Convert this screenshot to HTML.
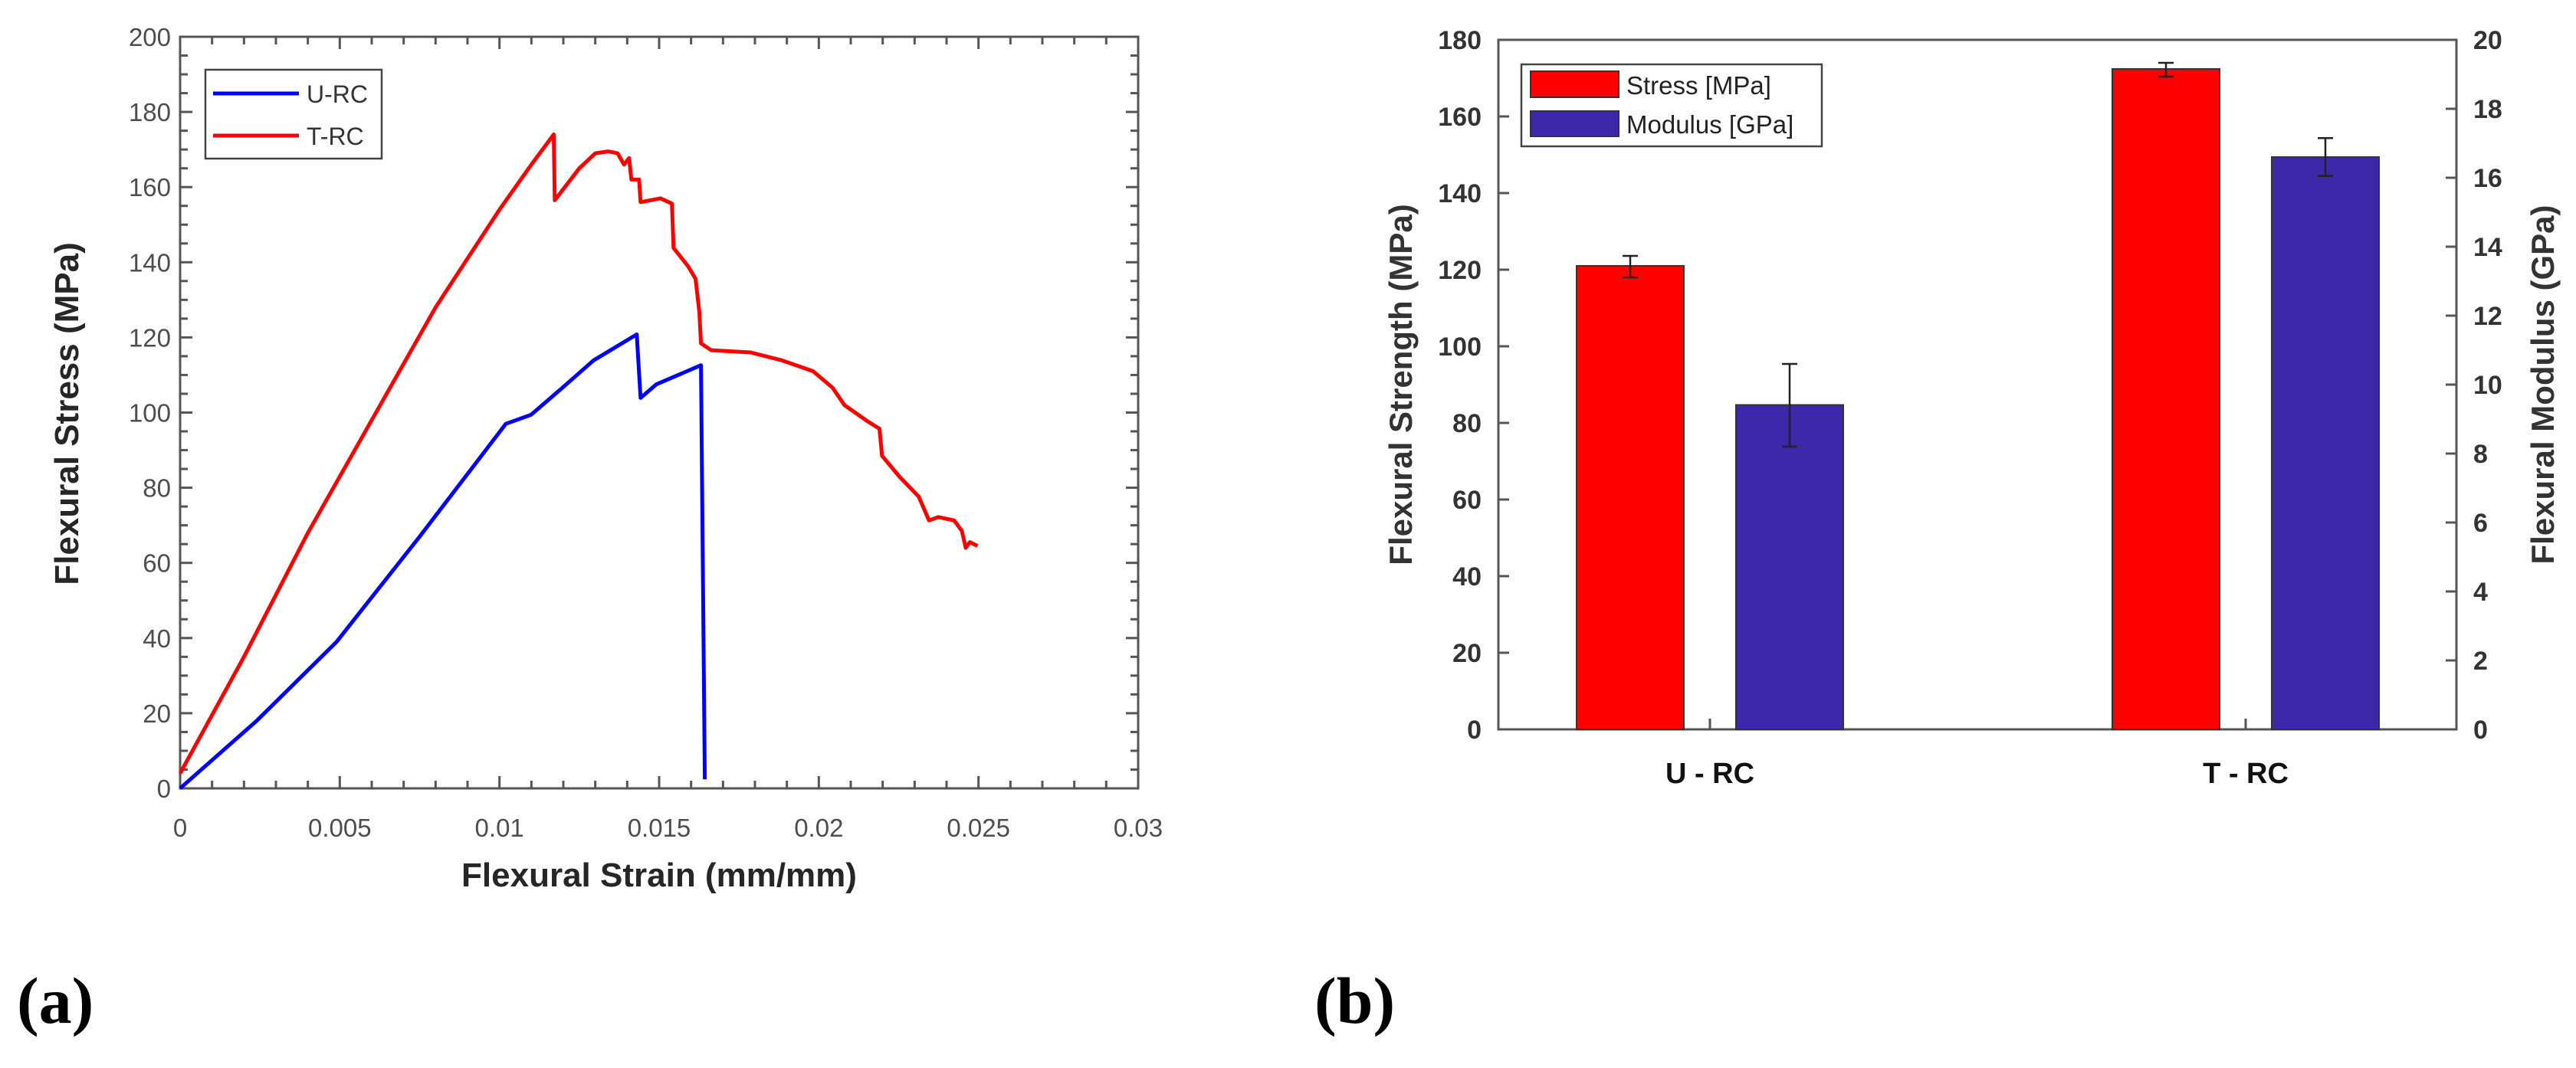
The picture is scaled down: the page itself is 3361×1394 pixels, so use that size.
<!DOCTYPE html>
<html><head><meta charset="utf-8"><style>
html,body{margin:0;padding:0;background:#fff;}
svg{display:block;}
</style></head><body>
<svg id="fig" width="3361" height="1394" viewBox="0 0 3361 1394" xmlns="http://www.w3.org/2000/svg">
<g id="chartA"></g>
<g id="chartB"></g>
<text x="22" y="1335" font-family="Liberation Serif, serif" font-weight="bold" font-size="86" fill="#000">(a)</text>
<text x="1715" y="1335" font-family="Liberation Serif, serif" font-weight="bold" font-size="86" fill="#000">(b)</text>
</svg>
<script>
// ---- Chart A data ----
const tStrain = [0,0.002,0.004,0.006,0.007,0.008,0.009,0.010,0.011,0.0117,0.01173,0.0125,0.013,0.0134,0.0137,0.0139,0.01406,0.01413,0.01437,0.01442,0.01504,0.0154,0.01545,0.0159,0.01614,0.01626,0.01631,0.01663,0.01786,0.01884,0.01982,0.02043,0.0208,0.02154,0.0219,0.02198,0.02252,0.02313,0.02345,0.02374,0.02424,0.02448,0.0246,0.02473,0.02497];
const tStress = [4,35,68,98,113,128,141,154,166,174,156.5,165,169,169.5,169,166,167.7,162,162,156,157,155.6,143.8,139,135.6,126.6,118.4,116.6,116,113.9,111,106.6,102,97.6,95.7,88.5,83,77.6,71.3,72.2,71.3,68.5,64,65.5,64.5];
const uStrain = [0,0.0024,0.0049,0.0075,0.0102,0.01099,0.01148,0.01197,0.01295,0.0143,0.01442,0.01491,0.01631,0.01643];
const uStress = [0,18,39,67,97,99.4,103,106.6,113.9,120.8,103.9,107.5,112.6,2.4];
const xTicksA = [0,0.005,0.01,0.015,0.02,0.025,0.03];
const xTickLabelsA = ["0","0.005","0.01","0.015","0.02","0.025","0.03"];
const yTicksA = [0,20,40,60,80,100,120,140,160,180,200];
// ---- Chart B data ----
const categories = ["U - RC","T - RC"];
const stressVals = [121,172.4];
const stressErrLo = [118,170.4];
const stressErrHi = [123.6,174];
const modulusVals = [9.41,16.6];
const modulusErrLo = [8.2,16.05];
const modulusErrHi = [10.6,17.15];
const yTicksB = [0,20,40,60,80,100,120,140,160,180];
const y2TicksB = [0,2,4,6,8,10,12,14,16,18,20];

const NS="http://www.w3.org/2000/svg";
function mk(parent,tag,attrs,text){const e=document.createElementNS(NS,tag);for(const k in attrs)e.setAttribute(k,attrs[k]);if(text!==undefined)e.textContent=text;parent.appendChild(e);return e;}

// ===== Chart A =====
const A=document.getElementById('chartA');
const aL=235,aR=1485,aT=48,aB=1029;
const ax=v=>aL+(v/0.03)*(aR-aL);
const ay=v=>aB-(v/200)*(aB-aT);
let frame=mk(A,'rect',{x:aL,y:aT,width:aR-aL,height:aB-aT,fill:'none',stroke:'#555',"stroke-width":3});


for(let i=0;i<=30;i++){const v=i*0.001;const big=i%5===0;const x=ax(v);const len=big?16:10;
 mk(A,'line',{x1:x,y1:aB,x2:x,y2:aB-len,stroke:'#555',"stroke-width":3});
 mk(A,'line',{x1:x,y1:aT,x2:x,y2:aT+len,stroke:'#555',"stroke-width":3});}
for(let i=0;i<=40;i++){const v=i*5;const big=i%4===0;const y=ay(v);const len=big?16:10;
 mk(A,'line',{x1:aL,y1:y,x2:aL+len,y2:y,stroke:'#555',"stroke-width":3});
 mk(A,'line',{x1:aR,y1:y,x2:aR-len,y2:y,stroke:'#555',"stroke-width":3});}
xTicksA.forEach((v,i)=>{const t=mk(A,'text',{x:ax(v),y:aB+63,"text-anchor":"middle","font-family":"Liberation Sans, sans-serif","font-size":33,fill:'#4d4d4d'},xTickLabelsA[i]);
 
 });
yTicksA.forEach(v=>{const t=mk(A,'text',{x:aL-12,y:ay(v)+12,"text-anchor":"end","font-family":"Liberation Sans, sans-serif","font-size":33,fill:'#4d4d4d'},String(v));
 
 });
let xt=mk(A,'text',{x:860,y:1157,"text-anchor":"middle","font-family":"Liberation Sans, sans-serif","font-weight":"bold","font-size":44,fill:'#262626'},'Flexural Strain (mm/mm)');


let yt=mk(A,'text',{x:0,y:0,transform:'translate(102,540) rotate(-90)',"text-anchor":"middle","font-family":"Liberation Sans, sans-serif","font-weight":"bold","font-size":44,fill:'#262626'},'Flexural Stress (MPa)');


function pathFrom(xs,ys){return xs.map((v,i)=>(i?'L':'M')+ax(v).toFixed(1)+','+ay(ys[i]).toFixed(1)).join(' ');}
let lu=mk(A,'path',{d:pathFrom(uStrain,uStress),fill:'none',stroke:'#0000ff',"stroke-width":5,"stroke-linejoin":"round"});


let lt=mk(A,'path',{d:pathFrom(tStrain,tStress),fill:'none',stroke:'#ff0000',"stroke-width":5,"stroke-linejoin":"round"});


let lgA=mk(A,'g',{});


mk(lgA,'rect',{x:268,y:91,width:230,height:116,fill:'#fff',stroke:'#444',"stroke-width":2.5});
mk(lgA,'line',{x1:278,y1:122,x2:390,y2:122,stroke:'#0000ff',"stroke-width":5});
mk(lgA,'line',{x1:278,y1:177,x2:390,y2:177,stroke:'#ff0000',"stroke-width":5});
let le1=mk(lgA,'text',{x:400,y:134,"font-family":"Liberation Sans, sans-serif","font-size":32,fill:'#333'},'U-RC');


let le2=mk(lgA,'text',{x:400,y:189,"font-family":"Liberation Sans, sans-serif","font-size":32,fill:'#333'},'T-RC');



// ===== Chart B =====
const B=document.getElementById('chartB');
const bL=1955,bR=3205,bT=52,bB=952;
const by=v=>bB-(v/180)*(bB-bT);
const by2=v=>bB-(v/20)*(bB-bT);
const catX=i=>2231+i*699;
let fb=mk(B,'rect',{x:bL,y:bT,width:bR-bL,height:bB-bT,fill:'none',stroke:'#555',"stroke-width":3});


yTicksB.forEach(v=>{const y=by(v);mk(B,'line',{x1:bL,y1:y,x2:bL+14,y2:y,stroke:'#555',"stroke-width":3});
 const t=mk(B,'text',{x:bL-22,y:y+12,"text-anchor":"end","font-family":"Liberation Sans, sans-serif","font-weight":"bold","font-size":34,fill:'#333'},String(v));
 
 });
y2TicksB.forEach(v=>{const y=by2(v);mk(B,'line',{x1:bR,y1:y,x2:bR-14,y2:y,stroke:'#555',"stroke-width":3});
 const t=mk(B,'text',{x:bR+22,y:y+12,"text-anchor":"start","font-family":"Liberation Sans, sans-serif","font-weight":"bold","font-size":34,fill:'#333'},String(v));
 
 });
categories.forEach((c,i)=>{const x=catX(i);mk(B,'line',{x1:x,y1:bB,x2:x,y2:bB-14,stroke:'#555',"stroke-width":3});
 const t=mk(B,'text',{x:x,y:1022,"text-anchor":"middle","font-family":"Liberation Sans, sans-serif","font-weight":"bold","font-size":38,fill:'#111'},c);
 
 
 const bw=140;
 const rx=x-104-bw/2, mx=x+104-bw/2;
 const r=mk(B,'rect',{x:rx,y:by(stressVals[i]),width:bw,height:bB-by(stressVals[i]),fill:'#ff0000',stroke:'#333',"stroke-width":2});
 
 
 const m=mk(B,'rect',{x:mx,y:by2(modulusVals[i]),width:bw,height:bB-by2(modulusVals[i]),fill:'#3c28a8',stroke:'#333',"stroke-width":2});
 
 
 const e1=mk(B,'path',{d:`M${x-104},${by(stressErrLo[i])}V${by(stressErrHi[i])}M${x-114},${by(stressErrLo[i])}h20M${x-114},${by(stressErrHi[i])}h20`,stroke:'#222',"stroke-width":2.5,fill:'none'});
 
 
 const e2=mk(B,'path',{d:`M${x+104},${by2(modulusErrLo[i])}V${by2(modulusErrHi[i])}M${x+94},${by2(modulusErrLo[i])}h20M${x+94},${by2(modulusErrHi[i])}h20`,stroke:'#222',"stroke-width":2.5,fill:'none'});
 
 });
let yb=mk(B,'text',{x:0,y:0,transform:'translate(1842,502) rotate(-90)',"text-anchor":"middle","font-family":"Liberation Sans, sans-serif","font-weight":"bold","font-size":42,fill:'#333'},'Flexural Strength (MPa)');


let yb2=mk(B,'text',{x:0,y:0,transform:'translate(3332,502) rotate(-90)',"text-anchor":"middle","font-family":"Liberation Sans, sans-serif","font-weight":"bold","font-size":42,fill:'#333'},'Flexural Modulus (GPa)');


let lgB=mk(B,'g',{});


mk(lgB,'rect',{x:1985,y:84,width:392,height:107,fill:'#fff',stroke:'#444',"stroke-width":2.5});
mk(lgB,'rect',{x:1997,y:93,width:115,height:34,fill:'#ff0000',stroke:'#333',"stroke-width":2});
mk(lgB,'rect',{x:1997,y:145,width:115,height:33,fill:'#3c28a8',stroke:'#333',"stroke-width":2});
let lb1=mk(lgB,'text',{x:2122,y:123,"font-family":"Liberation Sans, sans-serif","font-size":33,fill:'#222'},'Stress [MPa]');


let lb2=mk(lgB,'text',{x:2122,y:174,"font-family":"Liberation Sans, sans-serif","font-size":33,fill:'#222'},'Modulus [GPa]');


</script>
</body></html>
